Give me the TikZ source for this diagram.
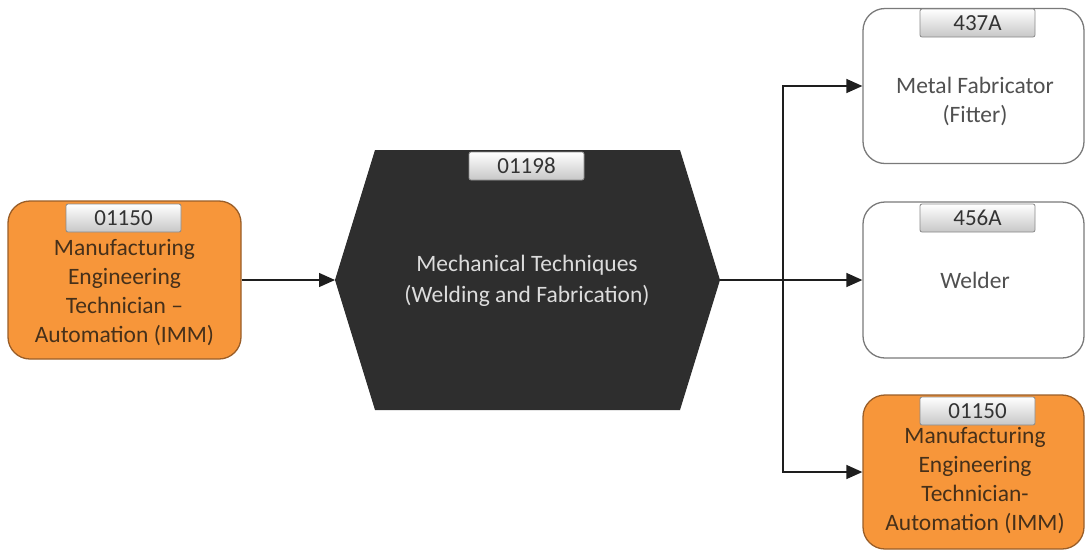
\documentclass[tikz,border=0pt]{standalone}
\usepackage{fontspec}
\setmainfont{Carlito}
\usetikzlibrary{arrows.meta}
\definecolor{orfill}{HTML}{F7963A}
\definecolor{orline}{HTML}{9A5E28}
\definecolor{ortext}{HTML}{46301A}
\definecolor{wline}{HTML}{7A7A7A}
\definecolor{wtext}{HTML}{505050}
\definecolor{hexfill}{HTML}{2E2E2E}
\definecolor{hextext}{HTML}{DCDCDC}
\definecolor{tagline}{HTML}{8A8A8A}
\definecolor{tagtext}{HTML}{333333}
\definecolor{connc}{HTML}{1E1E1E}
\begin{document}
\begin{tikzpicture}[x=1pt,y=-1pt,
  box/.style={draw, rounded corners=22pt, line width=1.3pt, inner sep=0pt},
  obox/.style={box, fill=orfill, draw=orline},
  wbox/.style={box, fill=white, draw=wline},
  tagbox/.style={draw=tagline, line width=0.8pt, top color=white, bottom color=black!22,
    rounded corners=2pt, minimum width=115pt, minimum height=28pt, inner sep=0pt,
    font=\fontsize{23}{26}\selectfont, text=tagtext},
  lbl/.style={align=center, inner sep=0pt, font=\fontsize{23.5}{29}\selectfont},
  conn/.style={line width=1.4pt, draw=connc, -{Triangle[length=16pt,width=14pt]}},
  plain/.style={line width=1.4pt, draw=connc}]
\useasboundingbox (0,0) rectangle (1086,550);

% left box
\node[obox, minimum width=233pt, minimum height=158pt] (left) at (124.5,280) {};
\node[tagbox] (lefttag) at (123.5,218) {01150};
\node[lbl, text=ortext] (lefttxt) at (124.5,293) {Manufacturing\\Engineering\\Technician –\\Automation (IMM)};

% hexagon
\fill[hexfill] (375,150) -- (680,150) -- (720,280) -- (680,410) -- (375,410) -- (335,280) -- cycle;
\coordinate (hexL) at (335,280);
\coordinate (hexR) at (720,280);
\node[tagbox] (hextag) at (526.5,166) {01198};
\node[lbl, text=hextext, font=\fontsize{23.5}{31}\selectfont] (hextxt) at (527,281) {Mechanical Techniques\\(Welding and Fabrication)};

% right boxes
\node[wbox, minimum width=221pt, minimum height=155pt] (r1) at (973.5,86) {};
\node[tagbox] (r1tag) at (977.5,23) {437A};
\node[lbl, text=wtext] (r1txt) at (975,101) {Metal Fabricator\\(Fitter)};

\node[wbox, minimum width=221pt, minimum height=156pt] (r2) at (973.5,280) {};
\node[tagbox] (r2tag) at (977.5,218) {456A};
\node[lbl, text=wtext] (r2txt) at (975,280) {Welder};

\node[obox, minimum width=221pt, minimum height=154pt] (r3) at (973.5,472) {};
\node[tagbox] (r3tag) at (977.5,411) {01150};
\node[lbl, text=ortext] (r3txt) at (975,481) {Manufacturing\\Engineering\\Technician-\\Automation (IMM)};

% connectors
\coordinate (br) at (783,280);
\draw[conn] (left.east) -- (hexL);
\draw[conn] (hexR) -- (r2.west);
\draw[conn] (br) |- (r1.west);
\draw[conn] (br) |- (r3.west);
\end{tikzpicture}
\end{document}
